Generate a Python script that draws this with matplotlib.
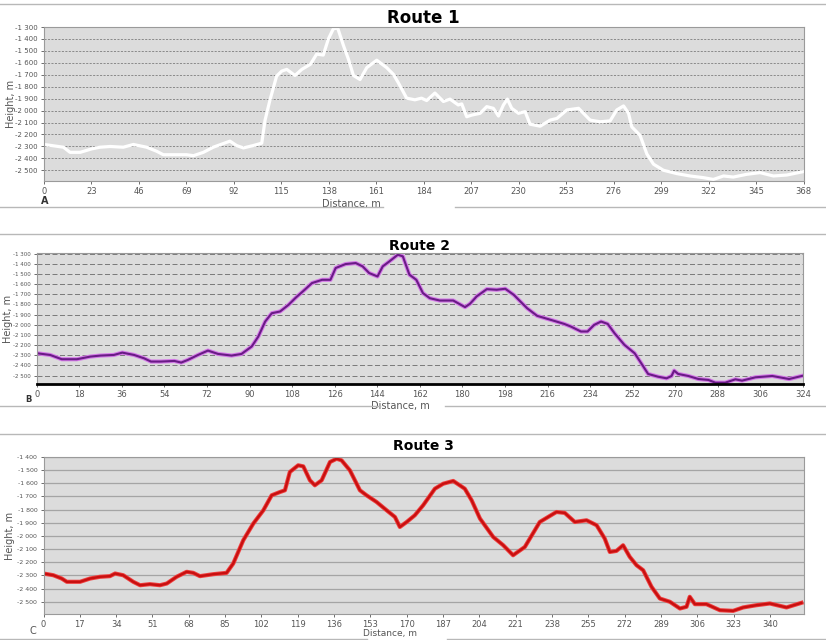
import numpy as np
import matplotlib
matplotlib.use("Agg")
import matplotlib.pyplot as plt
from matplotlib.ticker import FuncFormatter, MultipleLocator
from matplotlib.lines import Line2D

# =============================
#  Data
# =============================
route1_x = [0, 9.4, 12.6, 17.5, 23.1, 27.1, 32.0, 38.4, 43.3, 49.7, 54.6, 57.8, 62.7,
            69.1, 72.4, 77.2, 82.0, 90.1, 93.3, 96.6, 101.4, 105.5, 107.1, 109.5,
            112.7, 115.2, 117.6, 121.6, 124.9, 129.1, 132.1, 135.3, 137.8, 140.2,
            142.3, 145.1, 147.5, 149.9, 153.1, 156.4, 161.2, 166.0, 169.3, 171.7,
            175.7, 179.7, 182.9, 185.4, 189.4, 193.5, 196.7, 200.7, 202.4, 204.8,
            207.2, 211.3, 214.5, 217.7, 220.2, 222.6, 224.5, 226.6, 229.9, 233.1,
            235.5, 240.4, 245.2, 248.5, 253.3, 259.0, 264.6, 269.5, 274.3, 277.5,
            280.8, 283.2, 284.8, 287.2, 288.8, 292.1, 295.3, 300.1, 306.6, 313.0,
            319.5, 324.3, 329.2, 334.0, 340.5, 346.9, 353.4, 359.9, 368.0]
route1_y = [-2284, -2307, -2350, -2350, -2321, -2307, -2301, -2307, -2284, -2307, -2341,
            -2370, -2370, -2370, -2378, -2350, -2307, -2256, -2293, -2313, -2293,
            -2273, -2080, -1910, -1711, -1669, -1655, -1706, -1655, -1612, -1527,
            -1535, -1399, -1314, -1309, -1456, -1570, -1706, -1740, -1640, -1578,
            -1640, -1697, -1768, -1896, -1910, -1896, -1916, -1853, -1924, -1904,
            -1953, -1944, -2052, -2038, -2023, -1967, -1981, -2046, -1953, -1904,
            -1981, -2023, -2009, -2114, -2131, -2080, -2066, -1995, -1981, -2080,
            -2094, -2086, -1995, -1961, -2023, -2137, -2179, -2208, -2364, -2449,
            -2500, -2528, -2548, -2562, -2577, -2548, -2557, -2534, -2520, -2548,
            -2540, -2511]

route2_x = [0, 5.7, 10.6, 17.0, 22.7, 27.0, 32.6, 36.2, 41.2, 45.4, 48.3, 52.5, 58.2,
            61.1, 63.9, 68.2, 72.4, 76.7, 82.4, 86.6, 90.9, 93.7, 96.6, 99.4, 102.9,
            106.5, 109.3, 113.6, 116.4, 120.7, 124.2, 126.4, 130.6, 134.9, 137.8,
            140.6, 144.1, 146.3, 149.1, 152.7, 154.8, 157.6, 160.5, 163.3, 166.2,
            170.4, 176.1, 181.1, 183.2, 186.0, 190.3, 194.5, 198.1, 201.7, 207.3,
            211.6, 217.3, 223.0, 225.8, 230.1, 232.9, 235.7, 238.6, 241.4, 244.3,
            248.5, 252.8, 255.6, 258.5, 262.7, 266.3, 268.4, 269.5, 271.2, 275.5,
            279.8, 284.0, 286.9, 291.1, 295.4, 298.2, 303.9, 311.0, 318.1, 324.0]
route2_y = [-2280, -2297, -2339, -2339, -2313, -2303, -2297, -2274, -2297, -2330, -2362,
            -2362, -2356, -2372, -2346, -2297, -2254, -2287, -2303, -2287, -2214,
            -2116, -1968, -1886, -1869, -1803, -1738, -1649, -1589, -1557, -1557,
            -1441, -1402, -1392, -1425, -1491, -1524, -1425, -1376, -1310, -1326,
            -1507, -1557, -1688, -1738, -1761, -1761, -1826, -1793, -1721, -1649,
            -1655, -1645, -1705, -1836, -1912, -1951, -1991, -2017, -2066, -2066,
            -2001, -1968, -1991, -2083, -2198, -2280, -2379, -2484, -2511, -2527,
            -2504, -2451, -2484, -2504, -2534, -2543, -2570, -2570, -2537, -2550,
            -2517, -2504, -2534, -2501]

route3_x = [0, 4.6, 8.5, 10.9, 17.1, 21.8, 26.4, 31.1, 33.5, 37.3, 42.0, 45.2, 49.8,
            54.5, 57.7, 62.3, 67.0, 70.1, 73.2, 79.5, 82.6, 85.7, 88.8, 93.5, 98.2,
            102.9, 106.8, 110.7, 113.0, 115.3, 119.2, 121.6, 124.7, 127.0, 130.2,
            134.1, 137.2, 139.5, 143.4, 148.1, 151.2, 155.9, 160.6, 164.5, 166.8,
            170.0, 173.8, 177.7, 183.2, 187.1, 191.8, 197.2, 200.4, 204.3, 210.5,
            215.2, 219.8, 225.3, 232.3, 240.1, 244.0, 248.7, 254.2, 258.9, 262.7,
            265.1, 268.2, 271.3, 274.4, 277.6, 280.7, 284.6, 288.5, 293.2, 297.9,
            301.0, 302.5, 304.9, 310.3, 316.6, 322.8, 327.5, 333.7, 340.0, 347.8, 354.8]
route3_y = [-2286, -2299, -2324, -2349, -2349, -2324, -2311, -2306, -2286, -2299, -2349,
            -2375, -2367, -2375, -2362, -2311, -2273, -2281, -2306, -2291, -2286,
            -2281, -2210, -2033, -1906, -1805, -1691, -1666, -1653, -1514, -1463,
            -1471, -1577, -1615, -1577, -1438, -1413, -1425, -1501, -1653, -1691,
            -1742, -1805, -1856, -1932, -1894, -1843, -1767, -1641, -1603, -1582,
            -1641, -1729, -1868, -2008, -2071, -2147, -2084, -1894, -1818, -1825,
            -1894, -1881, -1919, -2020, -2122, -2114, -2071, -2159, -2223, -2261,
            -2387, -2476, -2501, -2552, -2539, -2463, -2519, -2519, -2565, -2570,
            -2544, -2527, -2514, -2544, -2509]

titles = ["Route 1", "Route 2", "Route 3"]
letters = ["A", "B", "C"]


def height_fmt(v, pos):
    return f"{int(round(v)):,}".replace(",", " ")


def setup_axes(ax, xmax, xstep, ylim, ystep, grid_style, ysize=5):
    ax.set_facecolor("#dcdcdc")
    ax.set_xlim(0, xmax)
    ax.set_ylim(*ylim)
    ax.xaxis.set_major_locator(MultipleLocator(xstep))
    ax.yaxis.set_major_locator(MultipleLocator(ystep))
    ax.yaxis.set_major_formatter(FuncFormatter(height_fmt))
    ax.tick_params(axis="both", colors="#555555", length=2.5, width=0.6, pad=2)
    ax.tick_params(axis="x", labelsize=6)
    ax.tick_params(axis="y", labelsize=ysize)
    for s in ax.spines.values():
        s.set_color("#9a9a9a")
        s.set_linewidth(0.8)
    ax.grid(axis="y", **grid_style)
    ax.set_axisbelow(True)
    ax.set_ylabel("Height, m", fontsize=7, color="#555555")
    ax.set_xlabel("Distance, m", fontsize=7, color="#555555", labelpad=0)


fig = plt.figure(figsize=(8.26, 6.4), dpi=100)
fig.patch.set_facecolor("white")

# ---- Route 1 ----
ax1 = fig.add_axes([0.0533, 0.7172, 0.9195, 0.2406])
setup_axes(ax1, 368, 23, (-2590, -1300), 100,
           dict(color="#6a6a6a", linestyle=(0, (3, 2)), linewidth=0.5))
ax1.plot(route1_x, route1_y, color="white", lw=2.3, solid_joinstyle="round")
ax1.set_title(titles[0], fontsize=12, fontweight="bold", pad=3)
ax1.xaxis.set_label_coords(0.405, -0.115)
ax1.yaxis.set_label_coords(-0.037, 0.5)

# ---- Route 2 ----
ax2 = fig.add_axes([0.0444, 0.4000, 0.9278, 0.2047])
setup_axes(ax2, 324, 18, (-2583, -1293), 100,
           dict(color="#6a6a6a", linestyle=(0, (6, 3)), linewidth=0.6), ysize=4)
ax2.spines["bottom"].set_color("black")
ax2.spines["bottom"].set_linewidth(2)
ax2.plot(route2_x, route2_y, color="#d57be8", lw=3.0, solid_joinstyle="round")
ax2.plot(route2_x, route2_y, color="#6a1b86", lw=1.5, solid_joinstyle="round")
ax2.set_title(titles[1], fontsize=10, fontweight="bold", pad=2)
ax2.xaxis.set_label_coords(0.475, -0.13)
ax2.yaxis.set_label_coords(-0.031, 0.5)

# ---- Route 3 ----
ax3 = fig.add_axes([0.0527, 0.0406, 0.9207, 0.2453])
setup_axes(ax3, 356, 17, (-2594, -1400), 100,
           dict(color="#a4a4a4", linestyle="-", linewidth=0.9), ysize=4.5)
ax3.plot(route3_x, route3_y, color="#f04040", lw=3.0, solid_joinstyle="round")
ax3.plot(route3_x, route3_y, color="#c81010", lw=1.7, solid_joinstyle="round")
ax3.set_title(titles[2], fontsize=10, fontweight="bold", pad=5)
ax3.xaxis.label.set_fontsize(6.5)
ax3.xaxis.set_label_coords(0.455, -0.095)
ax3.yaxis.set_label_coords(-0.037, 0.5)

# panel letters
fig.text(0.049, 1 - 201 / 640, letters[0], fontsize=7, fontweight="bold", color="#333333", va="center")
fig.text(0.030, 1 - 399 / 640, letters[1], fontsize=6, fontweight="bold", color="#333333", va="center")
fig.text(0.036, 1 - 631 / 640, letters[2], fontsize=7, color="#555555", va="center")

# separator lines between panels
def hline(y, x0, x1):
    fig.add_artist(Line2D([x0 / 826, x1 / 826], [1 - y / 640, 1 - y / 640],
                          color="#b8b8b8", lw=1, transform=fig.transFigure))

hline(4, 0, 826)
hline(207, 0, 383)
hline(207, 455, 826)
hline(234, 0, 826)
hline(406, 0, 380)
hline(406, 445, 826)
hline(434, 0, 826)
hline(639, 0, 367)
hline(639, 447, 826)

fig.savefig("out.png", dpi=100)
